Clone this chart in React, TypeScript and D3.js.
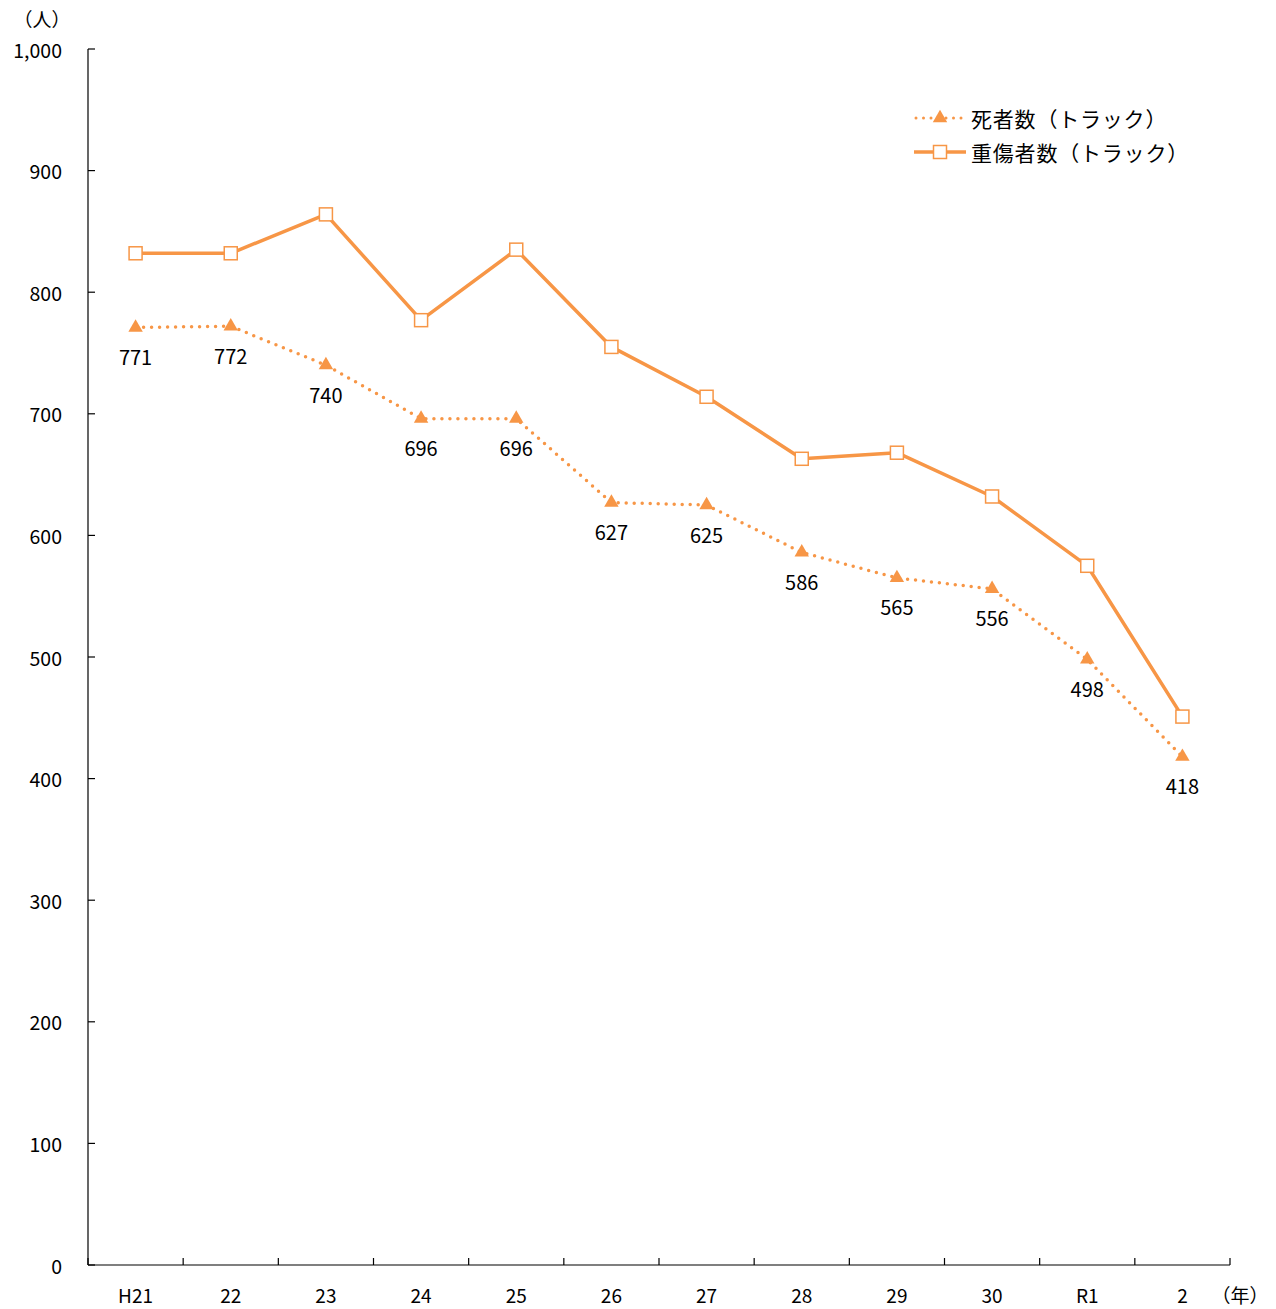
import React from "react";
import * as d3 from "d3";

const categories = ["H21", "22", "23", "24", "25", "26", "27", "28", "29", "30", "R1", "2"];
const deaths = [771, 772, 740, 696, 696, 627, 625, 586, 565, 556, 498, 418];
const serious = [832, 832, 864, 777, 835, 755, 714, 663, 668, 632, 575, 451];
const yTicks = [0, 100, 200, 300, 400, 500, 600, 700, 800, 900, 1000];
const seriesNames = ["死者数（トラック）", "重傷者数（トラック）"];

const W = 1276;
const H = 1309;
const left = 88;
const right = 1230;
const top = 49;
const bottom = 1265;
const color = "#F79646";
const font = "'Noto Sans CJK JP', 'Noto Sans', sans-serif";

export default function App() {
  const x = d3.scaleBand<string>().domain(categories).range([left, right]);
  const y = d3.scaleLinear().domain([0, 1000]).range([bottom, top]);
  const cx = (c: string) => (x(c) as number) + x.bandwidth() / 2;
  const line = d3
    .line<number>()
    .x((_, i) => cx(categories[i]))
    .y((d) => y(d));
  const tri = d3.symbol().type(d3.symbolTriangle).size(90)();
  const fmt = d3.format(",");
  const bounds = [left, ...categories.map((c) => (x(c) as number) + x.bandwidth())];

  return (
    <svg
      width={W}
      height={H}
      style={{ position: "absolute", left: 0, top: 0, background: "#fff" }}
      fontFamily={font}
    >
      {/* axes */}
      <line x1={left} x2={left} y1={top} y2={bottom} stroke="#000" strokeWidth={1.2} />
      <line x1={left} x2={right} y1={bottom} y2={bottom} stroke="#000" strokeWidth={1.2} />
      {yTicks.map((t) => (
        <g key={t}>
          <line x1={left} x2={left + 7} y1={y(t)} y2={y(t)} stroke="#000" strokeWidth={1.2} />
          <text x={62} y={y(t)} textAnchor="end" dominantBaseline="central" fontSize={19.5} fill="#000">
            {fmt(t)}
          </text>
        </g>
      ))}
      {bounds.map((b, i) => (
        <line key={i} x1={b} x2={b} y1={bottom} y2={bottom - 7} stroke="#000" strokeWidth={1.2} />
      ))}
      {categories.map((c) => (
        <text key={c} x={cx(c)} y={1294} textAnchor="middle" dominantBaseline="central" fontSize={19} fill="#000">
          {c}
        </text>
      ))}
      <text x={42} y={18} textAnchor="middle" dominantBaseline="central" fontSize={19} fill="#000">
        （人）
      </text>
      <text x={1240} y={1294} textAnchor="middle" dominantBaseline="central" fontSize={19} fill="#000">
        （年）
      </text>

      {/* serious injuries line */}
      <path d={line(serious) || ""} fill="none" stroke={color} strokeWidth={3.5} strokeLinejoin="round" />
      {serious.map((v, i) => (
        <rect
          key={i}
          x={cx(categories[i]) - 6.5}
          y={y(v) - 6.5}
          width={13}
          height={13}
          fill="#fff"
          stroke={color}
          strokeWidth={1.5}
        />
      ))}

      {/* deaths line */}
      <path
        d={line(deaths) || ""}
        fill="none"
        stroke={color}
        strokeWidth={3.5}
        strokeDasharray="0 8"
        strokeLinecap="round"
      />
      {deaths.map((v, i) => (
        <g key={i}>
          <path d={tri || ""} transform={`translate(${cx(categories[i])},${y(v)})`} fill={color} />
          <text
            x={cx(categories[i])}
            y={y(v) + 29}
            textAnchor="middle"
            dominantBaseline="central"
            fontSize={20}
            fill="#000"
          >
            {v}
          </text>
        </g>
      ))}

      {/* legend */}
      <g>
        <line x1={916} x2={966} y1={118} y2={118} stroke={color} strokeWidth={3} strokeDasharray="0 7.5" strokeLinecap="round" />
        <path d={tri || ""} transform="translate(940,118)" fill={color} />
        <text x={971} y={118} dominantBaseline="central" fontSize={21} letterSpacing={0.8} fill="#000">
          {seriesNames[0]}
        </text>
        <line x1={914} x2={966} y1={152} y2={152} stroke={color} strokeWidth={3.5} />
        <rect x={933.5} y={145.5} width={13} height={13} fill="#fff" stroke={color} strokeWidth={1.5} />
        <text x={971} y={152} dominantBaseline="central" fontSize={21} letterSpacing={0.8} fill="#000">
          {seriesNames[1]}
        </text>
      </g>
    </svg>
  );
}
